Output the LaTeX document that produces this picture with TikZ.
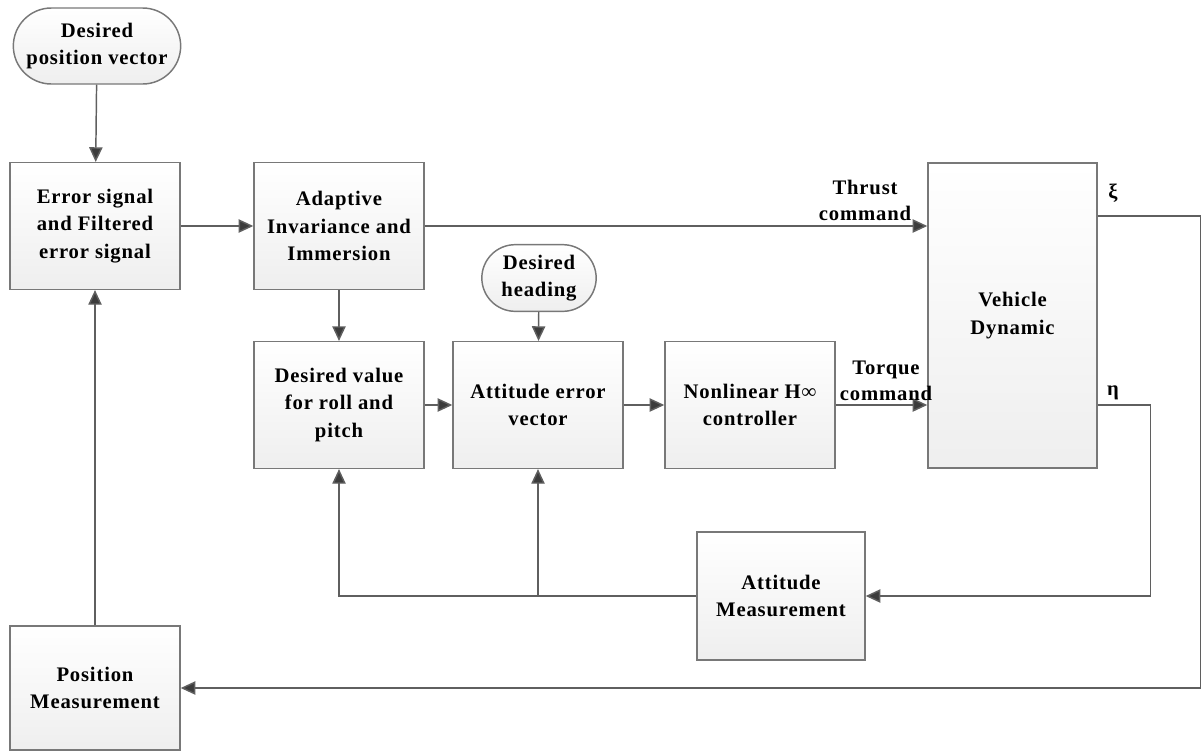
\documentclass[tikz,border=0pt]{standalone}
\usepackage{fontspec}
\setmainfont{Liberation Serif}[LetterSpace=4]
\usepackage{tikz}
\usetikzlibrary{arrows.meta, positioning, shapes.misc}
\definecolor{edgegray}{RGB}{120,120,120}
\definecolor{linegray}{RGB}{95,95,95}
\definecolor{tipgray}{RGB}{60,60,60}

\begin{document}
\begin{tikzpicture}[x=0.75pt, y=-0.75pt,
  block/.style={rectangle, draw=edgegray, line width=1.1pt, top color=white, bottom color=gray!13,
    align=center, font=\fontsize{15.5}{20.5}\selectfont\bfseries, minimum width=127.5pt, minimum height=95pt},
  term/.style={rounded rectangle, draw=edgegray, line width=1.1pt, top color=white, bottom color=gray!13,
    align=center, font=\fontsize{15.5}{20.5}\selectfont\bfseries, inner sep=1pt},
  lbl/.style={align=center, font=\fontsize{15.5}{19.5}\selectfont\bfseries, inner sep=0pt},
  arr/.style={draw=linegray, line width=1.1pt, -{Triangle[length=11pt, width=10pt, fill=tipgray]}},
  wire/.style={draw=linegray, line width=1.1pt}]
  \useasboundingbox (0,0) rectangle (1203,754);

  % inputs
  \node[term, minimum width=127.5pt, minimum height=57pt] (posvec) at (97,46) {Desired\\position vector};
  \node[term, minimum width=87.75pt, minimum height=50pt] (heading) at (539,278) {Desired\\heading};

  % blocks
  \node[block] (errsig) at (95,226) {Error signal\\and Filtered\\error signal};
  \node[block] (aii) at (339,226) {Adaptive\\Invariance and\\Immersion};
  \node[block] (desval) at (339,405) {Desired value\\for roll and\\pitch};
  \node[block] (atterr) at (538,405) {Attitude error\\vector};
  \node[block] (nlh) at (750,405) {Nonlinear H∞\\controller};
  \node[block, minimum width=126.75pt, minimum height=228.75pt] (vehicle) at (1012.5,315.5) {Vehicle\\Dynamic};
  \node[block, minimum width=126pt, minimum height=96pt] (attmeas) at (781,596) {Attitude\\Measurement};
  \node[block, minimum height=93pt] (posmeas) at (95,688) {Position\\Measurement};

  % forward path
  \draw[arr] (posvec) -- (errsig);
  \draw[arr] (errsig) -- (aii);
  \draw[arr] (aii.east) -- (vehicle.west |- aii.east);
  \draw[arr] (aii) -- (desval);
  \draw[arr] (heading) -- (atterr);
  \draw[arr] (desval) -- (atterr);
  \draw[arr] (atterr) -- (nlh);
  \draw[arr] (nlh.east) -- (vehicle.west |- nlh.east);
  \node[lbl] (thrust) at (865,200) {Thrust\\command};
  \node[lbl] (torque) at (886,381) {Torque\\command};

  % outputs and feedback
  \coordinate (xiout) at (1097.5,216);
  \node[lbl] (xi) at (1113,193) {ξ};
  \node[lbl] (eta) at (1113,393) {η};
  \draw[arr] (xiout) -- ++(103,0) |- (posmeas.east);
  \draw[arr] (vehicle.east |- nlh.east) -- ++(53,0) |- (attmeas.east);
  \draw[arr] (attmeas.west) -| (desval.south);
  \draw[arr] (attmeas.west -| atterr.south) -- (atterr.south);
  \draw[arr] (posmeas) -- (errsig);
\end{tikzpicture}
\end{document}
